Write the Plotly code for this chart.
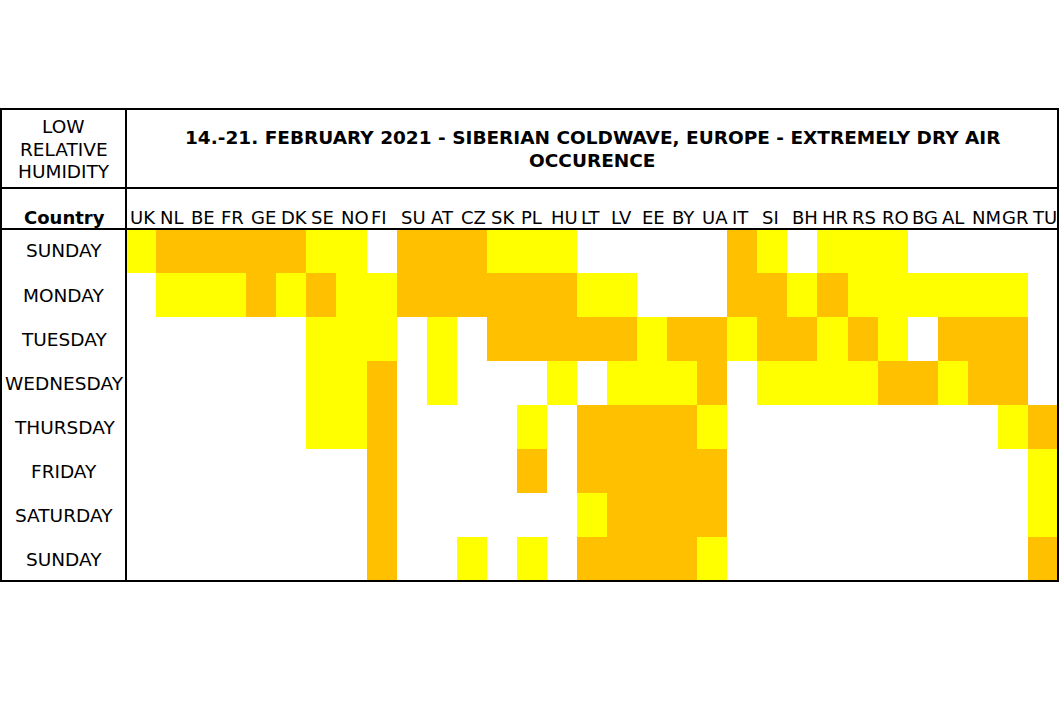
import plotly.graph_objects as go

W, H = 1062, 719

countries = ["UK", "NL", "BE", "FR", "GE", "DK", "SE", "NO", "FI", "SU", "AT", "CZ", "SK", "PL", "HU",
             "LT", "LV", "EE", "BY", "UA", "IT", "SI", "BH", "HR", "RS", "RO", "BG", "AL", "NM", "GR", "TU"]
days = ["SUNDAY", "MONDAY", "TUESDAY", "WEDNESDAY", "THURSDAY", "FRIDAY", "SATURDAY", "SUNDAY"]

# 0 = none, 1 = low humidity (yellow), 2 = very low humidity (orange)
sunday1   = [1,2,2,2,2,2,1,1,0,2,2,2,1,1,1,0,0,0,0,0,2,1,0,1,1,1,0,0,0,0,0]
monday    = [0,1,1,1,2,1,2,1,1,2,2,2,2,2,2,1,1,0,0,0,2,2,1,2,1,1,1,1,1,1,0]
tuesday   = [0,0,0,0,0,0,1,1,1,0,1,0,2,2,2,2,2,1,2,2,1,2,2,1,2,1,0,2,2,2,0]
wednesday = [0,0,0,0,0,0,1,1,2,0,1,0,0,0,1,0,1,1,1,2,0,1,1,1,1,2,2,1,2,2,0]
thursday  = [0,0,0,0,0,0,1,1,2,0,0,0,0,1,0,2,2,2,2,1,0,0,0,0,0,0,0,0,0,1,2]
friday    = [0,0,0,0,0,0,0,0,2,0,0,0,0,2,0,2,2,2,2,2,0,0,0,0,0,0,0,0,0,0,1]
saturday  = [0,0,0,0,0,0,0,0,2,0,0,0,0,0,0,1,2,2,2,2,0,0,0,0,0,0,0,0,0,0,1]
sunday2   = [0,0,0,0,0,0,0,0,2,0,0,1,0,1,0,2,2,2,2,1,0,0,0,0,0,0,0,0,0,0,2]

z = [sunday1, monday, tuesday, wednesday, thursday, friday, saturday, sunday2]

title_lines = ["14.-21. FEBRUARY 2021 - SIBERIAN COLDWAVE, EUROPE - EXTREMELY DRY AIR", "OCCURENCE"]
corner_lines = ["LOW", "RELATIVE", "HUMIDITY"]
header_text = "Country"

WHITE, YELLOW, ORANGE = "#FFFFFF", "#FFFF00", "#FFC000"
FONT = "DejaVu Sans"
FS = 18.5
FSC = 18
FSB = 18
FST = 18.5

def px(x):
    return x / W

def py(y):
    return 1 - y / H

grid_l, grid_r, grid_t, grid_b = 126, 1058, 229, 581
left_b, top_b, title_b = 1, 109, 188

fig = go.Figure(go.Heatmap(
    z=z,
    x=list(range(len(countries))),
    y=list(range(len(days))),
    zmin=0, zmax=2,
    colorscale=[[0, WHITE], [0.333, WHITE], [0.333, YELLOW], [0.667, YELLOW],
                [0.667, ORANGE], [1, ORANGE]],
    showscale=False,
    hoverinfo="skip",
))

fig.update_xaxes(domain=[px(grid_l), px(grid_r)], range=[-0.5, len(countries) - 0.5],
                 showgrid=False, zeroline=False, showticklabels=False, ticks="", fixedrange=True)
fig.update_yaxes(domain=[py(grid_b), py(grid_t)], range=[len(days) - 0.5, -0.5],
                 showgrid=False, zeroline=False, showticklabels=False, ticks="", fixedrange=True)

def font(size):
    return dict(family=FONT, size=size, color="black")

annotations = []
for i, c in enumerate(countries):
    annotations.append(dict(x=i - 0.42, y=py(217), xref="x", yref="paper", text=c,
                            xanchor="left", yanchor="middle", showarrow=False, font=font(FSC)))
for j, d in enumerate(days):
    annotations.append(dict(x=px(64), y=j, xref="paper", yref="y", text=d,
                            xanchor="center", yanchor="middle", showarrow=False, font=font(FS)))
annotations.append(dict(x=px(64), y=py(217), xref="paper", yref="paper", text="<b>" + header_text + "</b>",
                        xanchor="center", yanchor="middle", showarrow=False, font=font(FSB)))
for t, yy in zip(title_lines, [137, 160]):
    annotations.append(dict(x=px((grid_l + grid_r) / 2), y=py(yy), xref="paper", yref="paper",
                            text="<b>" + t + "</b>", xanchor="center", yanchor="middle",
                            showarrow=False, font=font(FST)))
for t, yy in zip(corner_lines, [127, 149, 171]):
    annotations.append(dict(x=px(63.5), y=py(yy), xref="paper", yref="paper",
                            text=t, xanchor="center", yanchor="middle",
                            showarrow=False, font=font(FS)))

line = dict(color="black", width=2)
shapes = [
    dict(type="rect", xref="paper", yref="paper", x0=px(left_b), x1=px(grid_r),
         y0=py(grid_b), y1=py(top_b), line=line, fillcolor="rgba(0,0,0,0)", layer="above"),
    dict(type="line", xref="paper", yref="paper", x0=px(grid_l), x1=px(grid_l),
         y0=py(grid_b), y1=py(top_b), line=line, layer="above"),
    dict(type="line", xref="paper", yref="paper", x0=px(left_b), x1=px(grid_r),
         y0=py(title_b), y1=py(title_b), line=line, layer="above"),
    dict(type="line", xref="paper", yref="paper", x0=px(left_b), x1=px(grid_r),
         y0=py(grid_t), y1=py(grid_t), line=line, layer="above"),
]

fig.update_layout(
    width=W, height=H,
    margin=dict(l=0, r=0, t=0, b=0),
    paper_bgcolor="white", plot_bgcolor="white",
    annotations=annotations, shapes=shapes,
    showlegend=False,
)

fig.write_html("out.html", config={"displayModeBar": False},
               post_script="document.body.style.margin='0';")
